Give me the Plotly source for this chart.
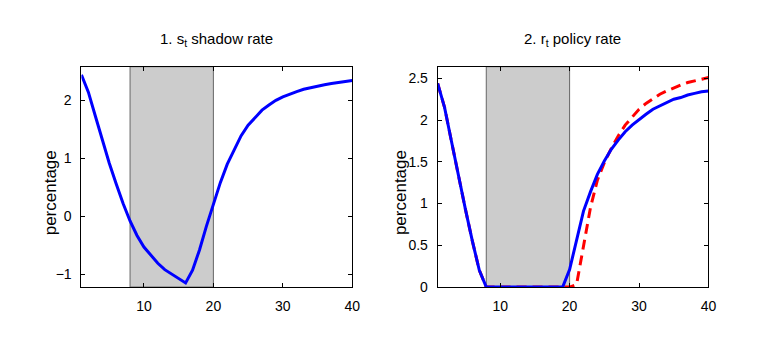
import plotly.graph_objects as go

# Horizon (quarters)
periods = list(range(1, 41))

# Shadow rate s_t, percentage
shadow_rate = [2.44, 2.14, 1.73, 1.31, 0.92, 0.56, 0.22, -0.08, -0.33, -0.53,
               -0.68, -0.81, -0.92, -1.00, -1.07, -1.15, -0.93, -0.58, -0.17, 0.21,
               0.58, 0.90, 1.16, 1.39, 1.57, 1.71, 1.83, 1.92, 2.00, 2.06,
               2.11, 2.15, 2.19, 2.22, 2.25, 2.27, 2.29, 2.31, 2.32, 2.34]

# Policy rate r_t, percentage (solid)
policy_rate = [2.44, 2.15, 1.74, 1.32, 0.93, 0.55, 0.20, 0.0, 0.0, 0.0,
               0.0, 0.0, 0.0, 0.0, 0.0, 0.0, 0.0, 0.0, 0.0, 0.21,
               0.57, 0.91, 1.14, 1.35, 1.51, 1.65, 1.76, 1.86, 1.94, 2.01,
               2.07, 2.13, 2.17, 2.21, 2.25, 2.27, 2.30, 2.32, 2.34, 2.35]

# Policy rate r_t, alternative path (dashed)
policy_rate_alt = [2.44, 2.15, 1.74, 1.32, 0.93, 0.55, 0.20, 0.0, 0.0, 0.0,
                   0.0, 0.0, 0.0, 0.0, 0.0, 0.0, 0.0, 0.0, 0.0, 0.0,
                   0.03, 0.50, 0.95, 1.28, 1.49, 1.66, 1.81, 1.94, 2.04, 2.13,
                   2.20, 2.26, 2.31, 2.35, 2.39, 2.42, 2.45, 2.47, 2.49, 2.51]

# Zero-lower-bound episode
zlb_start, zlb_end = 8, 20

x_ticks = [10, 20, 30, 40]
y1_ticks = [-1, 0, 1, 2]
y2_ticks = [0, 0.5, 1, 1.5, 2, 2.5]
y2_labels = ["0", "0.5", "1", "1.5", "2", "2.5"]

FONT = "Liberation Sans, Arial, Helvetica, sans-serif"
W, H = 763, 338

fig = go.Figure()

fig.add_trace(go.Scatter(x=periods, y=shadow_rate, mode="lines",
                         line=dict(color="#0000ff", width=3),
                         xaxis="x", yaxis="y", showlegend=False))
fig.add_trace(go.Scatter(x=periods, y=policy_rate_alt, mode="lines",
                         line=dict(color="#ff0000", width=3, dash="10px,6px"),
                         xaxis="x2", yaxis="y2", showlegend=False))
fig.add_trace(go.Scatter(x=periods, y=policy_rate, mode="lines",
                         line=dict(color="#0000ff", width=3),
                         xaxis="x2", yaxis="y2", showlegend=False))

# Shaded ZLB windows
for xr, yr in (("x", "y domain"), ("x2", "y2 domain")):
    fig.add_shape(type="rect", xref=xr, yref=yr, x0=zlb_start, x1=zlb_end,
                  y0=0, y1=1, fillcolor="#cccccc",
                  line=dict(color="#666666", width=1), layer="below")


def px_x(p):
    return p / W


def px_y(p):
    return 1 - p / H


ydom = [px_y(294), px_y(68.3)]

axis_common = dict(showline=True, linecolor="black", linewidth=1, mirror="ticks",
                   ticks="inside", ticklen=4, tickcolor="black", tickwidth=1,
                   showgrid=False, zeroline=False,
                   tickfont=dict(family=FONT, size=14, color="black"))

fig.update_layout(
    width=W, height=H,
    margin=dict(l=0, r=0, t=0, b=0),
    paper_bgcolor="white", plot_bgcolor="white",
    font=dict(family=FONT, color="black"),
    xaxis=dict(domain=[px_x(82.3), px_x(356)], range=[1, 40],
               tickvals=x_ticks, anchor="y", ticklabelstandoff=6, **axis_common),
    yaxis=dict(domain=ydom, range=[-1.22, 2.58], tickvals=y1_ticks,
               anchor="x", ticklabelstandoff=6, **axis_common),
    xaxis2=dict(domain=[px_x(442.3), px_x(716)], range=[1, 40],
                tickvals=x_ticks, anchor="y2", ticklabelstandoff=6, **axis_common),
    yaxis2=dict(domain=ydom, range=[0, 2.64], tickvals=y2_ticks,
                ticktext=y2_labels, anchor="x2", ticklabelstandoff=6, **axis_common),
)

titles = [("1. s<sub>t</sub> shadow rate", 219), ("2. r<sub>t</sub> policy rate", 579)]
for text, cx in titles:
    fig.add_annotation(text=text, xref="paper", yref="paper",
                       x=px_x(cx), y=px_y(40), xanchor="center", yanchor="middle",
                       showarrow=False, font=dict(family=FONT, size=15, color="black"))

for cx in (50.5, 405):
    fig.add_annotation(text="percentage", xref="paper", yref="paper",
                       x=px_x(cx), y=px_y(197), xanchor="center", yanchor="middle",
                       textangle=-90, showarrow=False,
                       font=dict(family=FONT, size=17, color="black"))

fig.write_html("out.html")
